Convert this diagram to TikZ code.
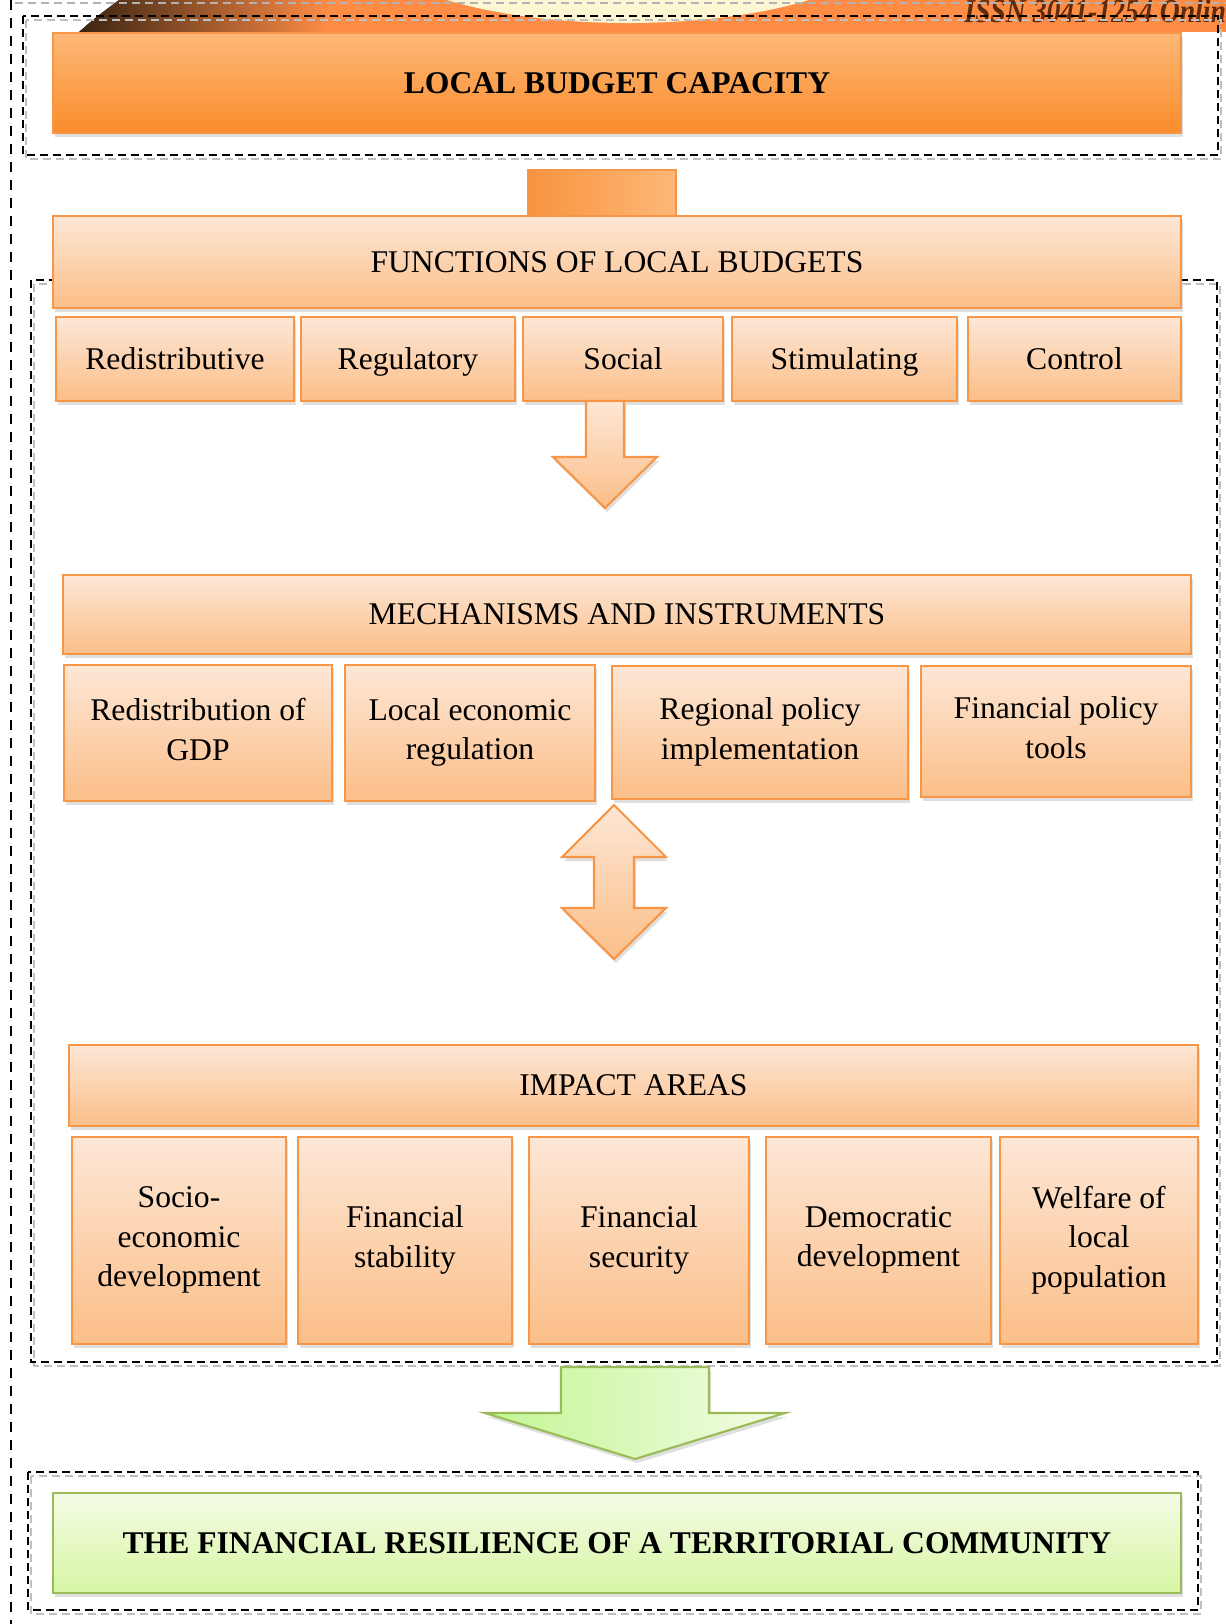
\documentclass[tikz,border=0pt]{standalone}
\usepackage{fontspec}
\setmainfont{Liberation Serif}
\usepackage{tikz}
\usetikzlibrary{shadows,calc}
\definecolor{boxline}{HTML}{F79646}
\definecolor{capTop}{HTML}{FDB877}
\definecolor{capBot}{HTML}{FA8C2B}
\definecolor{lightTop}{HTML}{FDE7D6}
\definecolor{lightBot}{HTML}{FBBE88}
\definecolor{greenline}{HTML}{9BBB59}
\definecolor{greenTop}{HTML}{F4FCE6}
\definecolor{greenBot}{HTML}{D7F5A3}
\definecolor{bannerOr}{HTML}{FF8C45}
\definecolor{bannerDk}{HTML}{3A2412}
\definecolor{logoCream}{HTML}{FDF6D3}
\definecolor{issnBrown}{HTML}{5E2B0B}
\newcommand{\bstrut}{\rule[-0.24em]{0pt}{1.14em}}
\tikzset{
    shade/.style = {drop shadow={opacity=0.25, shadow xshift=0.04cm, shadow yshift=-0.08cm}},
    block/.style = {draw=boxline, line width=1.2pt, rectangle, shade,
        top color=lightTop, bottom color=lightBot,
        inner sep=0pt, align=center, font=\fontsize{18}{22.5}\selectfont,
        execute at begin node=\bstrut, execute at end node=\bstrut},
    capbox/.style = {block, top color=capTop, bottom color=capBot,
        minimum width=22.56cm, minimum height=2cm, font=\fontsize{18}{22.5}\selectfont\bfseries},
    resbox/.style = {block, draw=greenline, top color=greenTop, bottom color=greenBot,
        minimum width=22.56cm, minimum height=2cm, font=\fontsize{18}{22.5}\selectfont\bfseries},
    link/.style = {draw=boxline, line width=0.8pt, left color=boxline!90!orange, right color=capTop,
        minimum width=2.96cm, minimum height=0.92cm},
    barrow/.style = {draw=boxline, line width=1.2pt, top color=lightTop, bottom color=lightBot, shade},
    garrow/.style = {draw=greenline, line width=1.2pt, left color=greenBot!90!green, right color=greenTop, shade},
    frame/.style = {draw=black, line width=0.9pt, dash pattern=on 0.16cm off 0.1cm},
    frameshade/.style = {draw=black!25, line width=0.9pt, dash pattern=on 0.16cm off 0.1cm}
}
\def\downarrow{%
    +(-19,0) -- +(19,0) -- +(19,56) -- +(52,56) -- +(0,107) -- +(-52,56) -- +(-19,56) -- cycle
}
\def\updownarrow{%
    +(0,0) -- +(52,52) -- +(20,52) -- +(20,103) -- +(52,103) -- +(0,154) -- +(-52,103) -- +(-20,103) -- +(-20,52) -- +(-52,52) -- cycle
}
\def\greenarrow{%
    +(-74,0) -- +(74,0) -- +(74,46) -- +(150,46) -- +(0,92) -- +(-150,46) -- +(-74,46) -- cycle
}
\begin{document}
\begin{tikzpicture}[x=0.02cm, y=-0.02cm]
        \useasboundingbox (0,0) rectangle (1226,1624);
        % journal banner (cut off)
        \begin{scope}
            \clip (0,0) rectangle (1226,1624);
            \fill[left color=bannerDk, right color=bannerOr] (79,32) .. controls (95,18) .. (119,0) -- (330,0) -- (330,32) -- cycle;
            \fill[bannerOr] (329,0) rectangle (1226,32);
            \fill[logoCream] (628,-60) ellipse [x radius=262, y radius=83];
            \node[anchor=base west, text=issnBrown, xscale=0.83, inner sep=0pt,
                  font=\fontsize{19}{19}\selectfont\bfseries\itshape] (issn) at (964,22) {ISSN 3041-1254 Online};
            \draw[black!30, line width=0.9pt, dash pattern=on 0.16cm off 0.1cm] (15,3) -- (1226,3);
        \end{scope}
        \draw[black, line width=0.9pt, dash pattern=on 0.2cm off 0.16cm] (11,0) -- (11,1624);
        % dashed frames
        \draw[frameshade] (26,20) rectangle (1221,159);
        \draw[frame] (23,16) rectangle (1218,155);
        \draw[frameshade] (34,284) rectangle (1220,1366);
        \draw[frame] (31,280) rectangle (1217,1362);
        \draw[frameshade] (31,1476) rectangle (1201,1614);
        \draw[frame] (28,1472) rectangle (1198,1610);
        % capacity and functions
        \node [capbox, name=capacity] at (617,83) {LOCAL BUDGET CAPACITY};
        \node [link, name=joint] at (602,193) {};
        \node [block, minimum width=22.56cm, minimum height=1.84cm, name=functions] at (617,262) {FUNCTIONS OF LOCAL BUDGETS};
        \node [block, minimum width=4.76cm, minimum height=1.68cm, name=redis] at (175,359) {Redistributive};
        \node [block, minimum width=4.28cm, minimum height=1.68cm, name=regul] at (408,359) {Regulatory};
        \node [block, minimum width=4.0cm, minimum height=1.68cm, name=social] at (623,359) {Social};
        \node [block, minimum width=4.5cm, minimum height=1.68cm, name=stimul] at (844.5,359) {Stimulating};
        \node [block, minimum width=4.26cm, minimum height=1.68cm, name=control] at (1074.5,359) {Control};
        \coordinate (dn) at (605,401);
        \draw [barrow] (dn) \downarrow;
        % mechanisms
        \node [block, minimum width=22.56cm, minimum height=1.58cm, name=mech] at (627,614.5) {MECHANISMS AND INSTRUMENTS};
        \node [block, minimum width=5.36cm, minimum height=2.72cm, name=gdp] at (198,733) {Redistribution of\\GDP};
        \node [block, minimum width=5.0cm, minimum height=2.72cm, name=localreg] at (470,733) {Local economic\\regulation};
        \node [block, minimum width=5.92cm, minimum height=2.66cm, name=regional] at (760,732.5) {Regional policy\\implementation};
        \node [block, minimum width=5.4cm, minimum height=2.62cm, name=tools] at (1056,731.5) {Financial policy\\tools};
        \coordinate (ud) at (614,805);
        \draw [barrow] (ud) \updownarrow;
        % impact areas
        \node [block, minimum width=22.58cm, minimum height=1.62cm, name=impact] at (633.5,1085.5) {IMPACT AREAS};
        \node [block, minimum width=4.28cm, minimum height=4.14cm, name=socio] at (179,1240.5) {Socio-\\economic\\development};
        \node [block, minimum width=4.28cm, minimum height=4.14cm, name=fstab] at (405,1240.5) {Financial\\stability};
        \node [block, minimum width=4.4cm, minimum height=4.14cm, name=fsec] at (639,1240.5) {Financial\\security};
        \node [block, minimum width=4.5cm, minimum height=4.14cm, name=democ] at (878.5,1240.5) {Democratic\\development};
        \node [block, minimum width=3.96cm, minimum height=4.14cm, name=welfare] at (1099,1240.5) {Welfare of\\local\\population};
        \coordinate (gr) at (635,1367);
        \draw [garrow] (gr) \greenarrow;
        % result
        \node [resbox, name=result] at (617,1543) {THE FINANCIAL RESILIENCE OF A TERRITORIAL COMMUNITY};
\end{tikzpicture}
\end{document}
